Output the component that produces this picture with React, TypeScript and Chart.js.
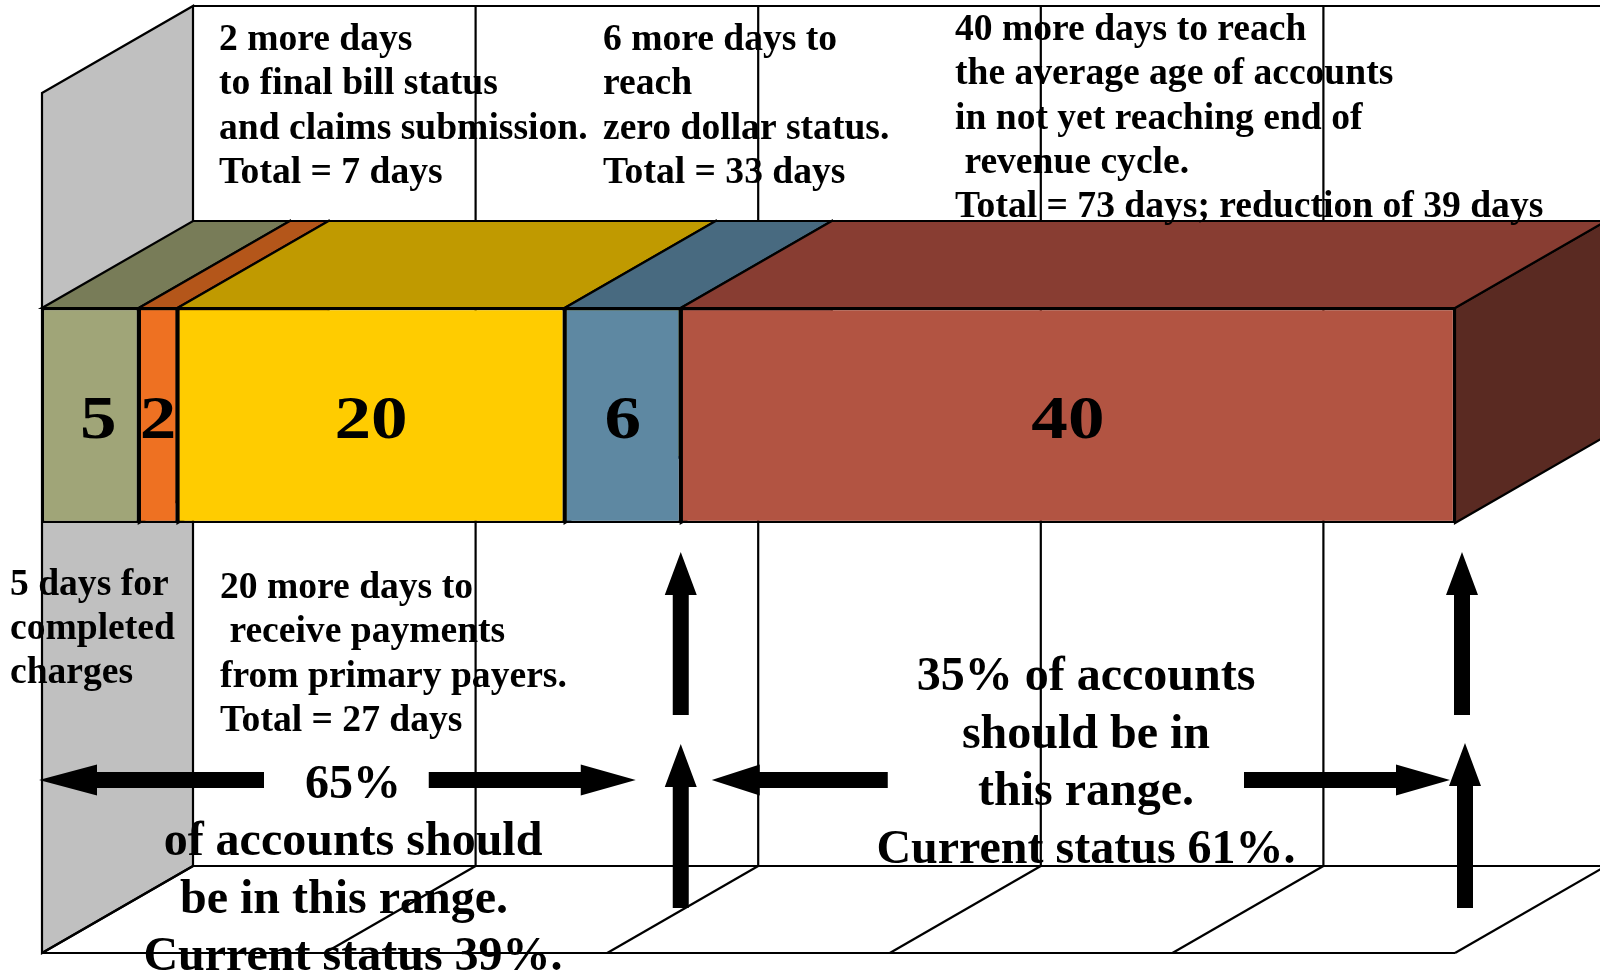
import React, { useEffect, useRef } from 'react';
import { Chart, registerables } from 'chart.js';

Chart.register(...registerables);

// ---------- data ----------
const categories = ['Days in A/R'];
const seriesNames = [
  'Completed charges',
  'Final bill and claims submission',
  'Payments from primary payers',
  'Zero dollar status',
  'Average age of accounts',
];
const seriesValues = [5, 2, 20, 6, 40];
const gridSteps = 5;

const topNotes = [
  ['2 more days', 'to final bill status', 'and claims submission.', 'Total = 7 days'],
  ['6 more days to', 'reach', 'zero dollar status.', 'Total = 33 days'],
  ['40 more days to reach', 'the average age of accounts', 'in not yet reaching end of', ' revenue cycle.', 'Total = 73 days; reduction of 39 days'],
];
const lowerNotes = [
  ['5 days for', 'completed', 'charges'],
  ['20 more days to', ' receive payments', 'from primary payers.', 'Total = 27 days'],
];
const rangeNotes = [
  ['65%', 'of accounts should', 'be in this range.', 'Current status 39%.'],
  ['35% of accounts', 'should be in', 'this range.', 'Current status 61%.'],
];

// ---------- styles ----------
const frontColors = ['#A0A578', '#EE7122', '#FFCC00', '#5E88A2', '#B25442'];
const topColors = ['#787C58', '#B4561A', '#C09A00', '#486A80', '#883D32'];
const sideColors = ['#55583E', '#7E3C12', '#866C00', '#32495A', '#5A2A22'];
const labelShift = [8, 0, 0, 0, 0];
const WALL = '#C0C0C0';
const DX = 151;
const DY = -87;
const PLANE_H = 860;
const SERIF = '"Liberation Serif", "Times New Roman", serif';

function poly(ctx: CanvasRenderingContext2D, pts: number[][], fill?: string) {
  ctx.beginPath();
  ctx.moveTo(pts[0][0], pts[0][1]);
  for (let i = 1; i < pts.length; i++) ctx.lineTo(pts[i][0], pts[i][1]);
  ctx.closePath();
  if (fill) {
    ctx.fillStyle = fill;
    ctx.fill();
  }
  ctx.stroke();
}

function line(ctx: CanvasRenderingContext2D, x1: number, y1: number, x2: number, y2: number) {
  ctx.beginPath();
  ctx.moveTo(x1, y1);
  ctx.lineTo(x2, y2);
  ctx.stroke();
}

function arrow(
  ctx: CanvasRenderingContext2D,
  x1: number, y1: number, x2: number, y2: number,
  headLen: number, headW: number, shaftW: number
) {
  const ang = Math.atan2(y2 - y1, x2 - x1);
  const len = Math.hypot(x2 - x1, y2 - y1);
  ctx.save();
  ctx.translate(x1, y1);
  ctx.rotate(ang);
  ctx.beginPath();
  ctx.moveTo(0, -shaftW / 2);
  ctx.lineTo(len - headLen, -shaftW / 2);
  ctx.lineTo(len - headLen, -headW / 2);
  ctx.lineTo(len, 0);
  ctx.lineTo(len - headLen, headW / 2);
  ctx.lineTo(len - headLen, shaftW / 2);
  ctx.lineTo(0, shaftW / 2);
  ctx.closePath();
  ctx.fillStyle = '#000';
  ctx.fill();
  ctx.restore();
}

function textLines(
  ctx: CanvasRenderingContext2D, lines: string[], x: number, y: number, lh: number,
  font: string, align: CanvasTextAlign
) {
  ctx.font = font;
  ctx.textAlign = align;
  ctx.textBaseline = 'alphabetic';
  ctx.fillStyle = '#000';
  lines.forEach((t, i) => ctx.fillText(t, x, y + i * lh));
}

const scene3d = {
  id: 'scene3d',
  beforeDatasetsDraw(chart: any) {
    const { ctx, chartArea } = chart;
    const xs = chart.scales.x;
    const total = seriesValues.reduce((a, b) => a + b, 0);
    const gx = Array.from({ length: gridSteps + 1 }, (_, k) => xs.getPixelForValue((total * k) / gridSteps));
    const topF = chartArea.top;
    const floorF = topF + PLANE_H;
    const topB = topF + DY;
    const floorB = floorF + DY;
    ctx.save();
    ctx.fillStyle = '#fff';
    ctx.fillRect(0, 0, chart.width, chart.height);
    ctx.strokeStyle = '#000';
    ctx.lineWidth = 2.2;
    ctx.lineJoin = 'miter';
    // left wall
    poly(ctx, [[gx[0], topF], [gx[0] + DX, topB], [gx[0] + DX, floorB], [gx[0], floorF]], WALL);
    // back wall
    line(ctx, gx[0] + DX, topB, gx[gridSteps] + DX, topB);
    for (let k = 1; k <= gridSteps; k++) line(ctx, gx[k] + DX, topB, gx[k] + DX, floorB);
    // floor
    line(ctx, gx[0] + DX, floorB, gx[gridSteps] + DX, floorB);
    line(ctx, gx[0], floorF, gx[gridSteps], floorF);
    for (let k = 0; k <= gridSteps; k++) line(ctx, gx[k], floorF, gx[k] + DX, floorB);
    // bar depth faces
    seriesValues.forEach((_, i) => {
      const el = chart.getDatasetMeta(i).data[0];
      if (!el) return;
      const p = el.getProps(['x', 'y', 'base', 'height'], true);
      const x0 = Math.min(p.base, p.x);
      const x1 = Math.max(p.base, p.x);
      const t = p.y - p.height / 2;
      const b = p.y + p.height / 2;
      poly(ctx, [[x1, t], [x1 + DX, t + DY], [x1 + DX, b + DY], [x1, b]], sideColors[i]);
      poly(ctx, [[x0, t], [x1, t], [x1 + DX, t + DY], [x0 + DX, t + DY]], topColors[i]);
    });
    ctx.restore();
  },
  afterDatasetsDraw(chart: any) {
    const { ctx } = chart;
    const xs = chart.scales.x;
    ctx.save();
    // value labels
    seriesValues.forEach((v, i) => {
      const el = chart.getDatasetMeta(i).data[0];
      if (!el) return;
      const p = el.getProps(['x', 'y', 'base'], true);
      const cx = (p.base + p.x) / 2 + labelShift[i];
      ctx.save();
      ctx.translate(cx, p.y + 22);
      ctx.scale(1.18, 1);
      ctx.font = `bold 62px ${SERIF}`;
      ctx.textAlign = 'center';
      ctx.textBaseline = 'alphabetic';
      ctx.fillStyle = '#000';
      ctx.fillText(String(v), 0, 0);
      ctx.restore();
    });

    // arrows tied to cumulative boundaries
    const cum = (n: number) => seriesValues.slice(0, n).reduce((a, b) => a + b, 0);
    const b0 = xs.getPixelForValue(0);
    const bMid = xs.getPixelForValue(cum(4));
    const bEnd = xs.getPixelForValue(cum(5));
    const ay = 780;
    arrow(ctx, b0 + 222, ay, b0 - 3, ay, 58, 31, 16);
    arrow(ctx, bMid - 252, ay, bMid - 45, ay, 55, 31, 16);
    arrow(ctx, bMid + 207, ay, bMid + 31, ay, 48, 31, 16);
    arrow(ctx, bEnd - 211, ay, bEnd - 5, ay, 54, 31, 16);
    arrow(ctx, bMid, 715, bMid, 552, 43, 32, 16);
    arrow(ctx, bMid, 908, bMid, 744, 43, 32, 16);
    arrow(ctx, bEnd + 7, 715, bEnd + 7, 552, 43, 32, 16);
    arrow(ctx, bEnd + 10, 908, bEnd + 10, 743, 43, 32, 16);

    // annotations
    const small = `bold 37.6px ${SERIF}`;
    const big = `bold 48px ${SERIF}`;
    textLines(ctx, topNotes[0], 219, 50, 44.3, small, 'left');
    textLines(ctx, topNotes[1], 603, 50, 44.3, small, 'left');
    textLines(ctx, topNotes[2], 955, 40, 44.3, small, 'left');
    textLines(ctx, lowerNotes[0], 10, 595, 44, small, 'left');
    textLines(ctx, lowerNotes[1], 220, 598, 44.3, small, 'left');
    textLines(ctx, rangeNotes[0].slice(0, 2), 353, 798, 57.3, big, 'center');
    textLines(ctx, rangeNotes[0].slice(2, 3), 344, 798 + 2 * 57.3, 57.3, big, 'center');
    textLines(ctx, rangeNotes[0].slice(3), 353, 798 + 3 * 57.3, 57.3, big, 'center');
    textLines(ctx, rangeNotes[1], 1086, 690, 57.5, big, 'center');
    ctx.restore();
  },
};

export default function App() {
  const ref = useRef<HTMLCanvasElement | null>(null);
  useEffect(() => {
    if (!ref.current) return;
    const total = seriesValues.reduce((a, b) => a + b, 0);
    const chart = new Chart(ref.current, {
      type: 'bar',
      data: {
        labels: categories,
        datasets: seriesValues.map((v, i) => ({
          label: seriesNames[i],
          data: [v],
          backgroundColor: frontColors[i],
          borderColor: '#000',
          borderWidth: 2.2,
          borderSkipped: false,
          barPercentage: 1 / 3,
          categoryPercentage: 1,
        })),
      },
      options: {
        indexAxis: 'y',
        responsive: false,
        animation: false,
        devicePixelRatio: 1,
        layout: { padding: { left: 42, right: 145, top: 93, bottom: 237 } },
        scales: {
          x: { type: 'linear', stacked: true, min: 0, max: total, display: false },
          y: { type: 'category', stacked: true, display: false },
        },
        plugins: { legend: { display: false }, tooltip: { enabled: false }, title: { display: false } },
      },
      plugins: [scene3d],
    });
    return () => chart.destroy();
  }, []);
  return (
    <div style={{ position: 'fixed', left: 0, top: 0, width: 1600, height: 975, background: '#fff' }}>
      <canvas ref={ref} width={1600} height={975} style={{ display: 'block' }} />
    </div>
  );
}
